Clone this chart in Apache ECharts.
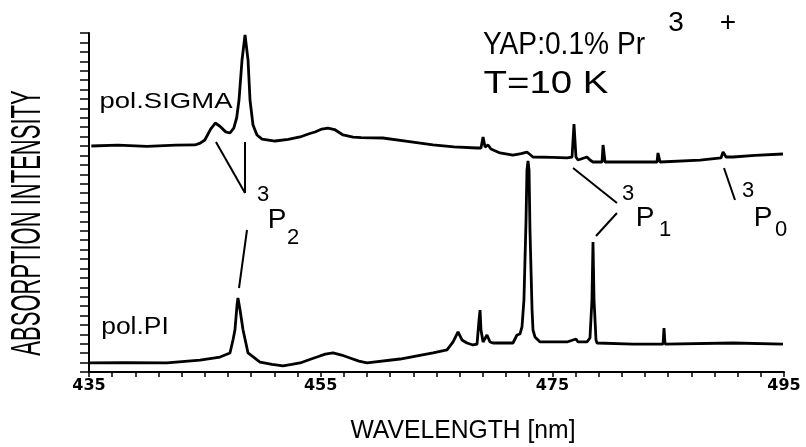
<!DOCTYPE html>
<html>
<head>
<meta charset="utf-8">
<script src="https://cdn.jsdelivr.net/npm/echarts@6/dist/echarts.min.js"></script>
<style>
  html, body { margin: 0; padding: 0; background: #fff; }
  #chart { width: 806px; height: 447px; }
</style>
</head>
<body>
<div id="chart"></div>
<script>
// Wavelength axis (nm) and tick layout
const xMin = 435, xMax = 495, xTickStep = 2, xLabelStep = 20;
const yMin = 0, yMax = 36, yTickStep = 1;

// sigma-polarised absorption spectrum: wavelength (nm) / intensity (arb.)
const sigmaNm = [435.2, 437.5, 440.0, 442.5, 444.15, 444.6, 445.0, 445.5, 445.9, 446.3,
  446.8, 447.17, 447.5, 447.75, 447.95, 448.21, 448.47, 448.73, 448.9, 449.16,
  449.5, 449.94, 451.06, 452.2, 453.22, 454.0, 454.51, 455.1, 455.63, 456.2,
  456.93, 457.8, 458.5, 460.38, 462.5, 464.7, 466.5, 468.5, 468.84, 469.02,
  469.19, 469.45, 469.7, 470.48, 471.6, 472.3, 472.81, 473.33, 475.0, 476.27,
  476.7, 476.87, 477.04, 477.22, 477.99, 478.25, 478.51, 479.29, 479.38, 479.55,
  481.97, 484.04, 484.12, 484.3, 487.75, 489.56, 489.74, 490.0, 490.6, 492.5,
  494.91];
const sigmaVal = [24.0, 24.1, 23.95, 24.1, 24.11, 24.3, 24.64, 25.8, 26.44, 26.1,
  25.5, 25.38, 25.9, 27.0, 28.88, 33.13, 35.79, 33.13, 28.88, 26.23,
  25.17, 24.74, 24.53, 24.7, 24.96, 25.3, 25.49, 25.8, 25.91, 25.75,
  25.17, 24.95, 24.9, 24.85, 24.5, 24.11, 23.9, 23.79, 23.79, 24.96,
  23.89, 24.11, 23.68, 23.26, 23.04, 23.2, 23.36, 22.83, 22.8, 22.73,
  22.83, 26.34, 22.83, 22.51, 22.83, 22.51, 22.3, 22.3, 24.11, 22.3,
  22.3, 22.3, 23.26, 22.3, 22.51, 22.73, 23.36, 22.83, 22.83, 23.0,
  23.15];

// pi-polarised absorption spectrum: wavelength (nm) / intensity (arb.)
const piNm = [435.09, 438.0, 441.73, 444.58, 446.31, 447.17, 447.43, 447.6, 447.78, 447.86,
  448.04, 448.3, 448.73, 449.76, 450.8, 451.75, 452.5, 453.22, 454.0, 454.68,
  455.4, 456.07, 456.8, 457.53, 458.3, 459.0, 461.85, 464.7, 465.91, 466.43,
  466.86, 467.2, 467.63, 468.15, 468.5, 468.67, 468.76, 468.84, 469.02, 469.36,
  469.62, 469.88, 471.6, 471.95, 472.21, 472.38, 472.55, 472.73, 472.81, 472.9,
  472.99, 473.07, 473.25, 473.33, 473.5, 473.94, 476.27, 477.04, 477.22, 477.99,
  478.25, 478.42, 478.51, 478.6, 478.77, 478.86, 481.97, 484.56, 484.64, 484.73,
  484.9, 490.6, 494.91];
const piVal = [0.96, 1.0, 0.96, 1.27, 1.59, 2.02, 3.4, 4.46, 7.11, 7.86,
  6.58, 4.46, 2.02, 1.06, 0.8, 0.64, 0.8, 0.96, 1.3, 1.59,
  1.9, 2.02, 1.8, 1.49, 1.15, 0.96, 1.38, 2.02, 2.34, 3.19,
  4.25, 3.4, 3.08, 2.87, 2.97, 5.52, 6.58, 4.46, 3.19, 3.93,
  3.19, 3.08, 3.08, 3.93, 4.04, 4.78, 7.65, 16.14, 21.45, 22.41,
  21.45, 15.08, 6.58, 4.46, 3.72, 3.19, 3.19, 3.5, 3.19, 3.19,
  3.61, 7.65, 13.8, 7.65, 3.4, 3.08, 2.97, 2.97, 4.67, 2.97,
  3.08, 3.08, 2.97];

// Leader lines from the lines to the term labels (data coordinates)
const leaderStart = [[445.96, 24.43], [448.47, 24.43], [447.95, 8.92], [476.79, 21.66], [478.77, 14.44], [489.82, 21.66]];
const leaderEnd   = [[448.47, 19.01], [448.47, 19.01], [448.64, 15.08], [480.58, 17.95], [480.58, 16.89], [490.77, 18.27]];

const FONT = '"Liberation Sans", Arial, sans-serif';

const zip = (xs, ys) => xs.map((x, i) => [x, ys[i]]);
const leaders = leaderStart.map((s, i) => [{ coord: s }, { coord: leaderEnd[i] }]);

function txt(text, x, y, size, opts) {
  return Object.assign({
    type: 'text', x: x, y: y, silent: true,
    style: { text: text, fill: '#000', font: size + 'px ' + FONT, align: 'center', verticalAlign: 'middle' }
  }, opts || {});
}

const chart = echarts.init(document.getElementById('chart'), null, { renderer: 'canvas' });

chart.setOption({
  backgroundColor: '#fff',
  animation: false,
  grid: { left: 89, right: 22, top: 33, bottom: 75 },
  xAxis: {
    type: 'value', min: xMin, max: xMax, interval: xTickStep,
    axisLine: { lineStyle: { color: '#000', width: 2 } },
    axisTick: { length: 5, lineStyle: { color: '#000', width: 1.5 } },
    splitLine: { show: false },
    axisLabel: {
      color: '#000', fontFamily: '"DejaVu Sans", sans-serif', fontWeight: 'bold', fontSize: 16, margin: 6,
      formatter: v => (Math.abs((v - xMin) % xLabelStep) < 1e-6 ? String(v) : '')
    }
  },
  yAxis: {
    type: 'value', min: yMin, max: yMax, interval: yTickStep,
    axisLine: { show: true, lineStyle: { color: '#000', width: 2 } },
    axisTick: { show: true, length: 9, lineStyle: { color: '#000', width: 1.5 } },
    axisLabel: { show: false },
    splitLine: { show: false }
  },
  series: [
    {
      name: 'pol.SIGMA', type: 'line', data: zip(sigmaNm, sigmaVal),
      showSymbol: false, smooth: false,
      lineStyle: { color: '#000', width: 2.8 },
      markLine: {
        silent: true, symbol: 'none',
        label: { show: false },
        lineStyle: { color: '#000', width: 2, type: 'solid' },
        data: leaders
      }
    },
    {
      name: 'pol.PI', type: 'line', data: zip(piNm, piVal),
      showSymbol: false, smooth: false,
      lineStyle: { color: '#000', width: 2.8 }
    }
  ],
  graphic: [
    // axis titles
    txt('ABSORPTION INTENSITY', 28, 223, 22, { rotation: Math.PI / 2, scaleX: 1.0, scaleY: 1.9 }),
    txt('WAVELENGTH [nm]', 463, 431, 26, { scaleX: 0.95 }),
    // trace names
    txt('pol.SIGMA', 166, 102, 22, { scaleX: 1.25 }),
    txt('pol.PI', 135, 328, 23, { scaleX: 1.15 }),
    // sample and temperature
    txt('YAP:0.1% Pr', 564, 45, 32, { scaleX: 0.88 }),
    txt('3', 676, 23, 28),
    txt('+', 728, 23, 28),
    txt('T=10 K', 546, 84, 32, { scaleX: 1.2 }),
    // term labels 3P2, 3P1, 3P0
    txt('3', 263, 195, 22), txt('P', 277, 220, 28), txt('2', 293, 238, 22),
    txt('3', 628, 194, 22), txt('P', 645, 218, 28), txt('1', 665, 230, 22),
    txt('3', 748, 191, 22), txt('P', 763, 218, 28), txt('0', 781, 230, 22)
  ]
});
</script>
</body>
</html>
